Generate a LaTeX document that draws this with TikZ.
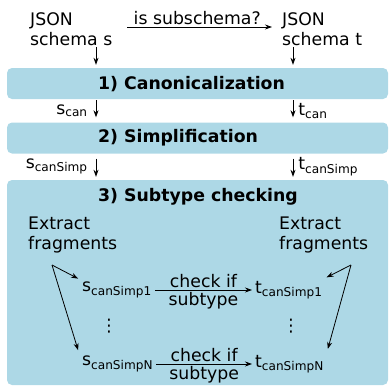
\documentclass[tikz,border=0pt]{standalone}
\usepackage{fontspec}
\setmainfont{DejaVu Sans}
\usetikzlibrary{arrows.meta,positioning,calc}
\definecolor{paleblue}{RGB}{173,216,230}
\newcommand\diagfont{\fontsize{17.3}{20.5}\selectfont}
\tikzset{
  >={Stealth[length=7pt,width=5pt]},
  stage/.style={fill=paleblue,rounded corners=5pt,minimum width=381pt,minimum height=#1,inner sep=0pt},
  stage/.default=31pt,
  stagetitle/.style={font=\diagfont\bfseries,anchor=west,inner sep=0pt},
  txt/.style={align=left,anchor=west,inner sep=0pt},
  sch/.style={anchor=west,inner sep=3pt},
  sublbl/.style={inner sep=2pt},
  flow/.style={->,line width=0.8pt},
}
\begin{document}
\begin{tikzpicture}[x=1pt,y=-1pt,font=\diagfont]
  \useasboundingbox (0,0) rectangle (389,388);
  \node[stage] (b1) at (197.5,83.5) {};
  \node[stage] (b2) at (197.5,138) {};
  \node[stage=205pt] (b3) at (197.5,282.5) {};
  \node[stagetitle] (h1) at (98,84) {1) Canonicalization};
  \node[stagetitle] (h2) at (98,138) {2) Simplification};
  \node[stagetitle] (h3) at (98,197) {3) Subtype checking};

  \node[txt] (sIn) at (30,29) {JSON\\schema s};
  \node[txt] (tIn) at (282,29) {JSON\\schema t};
  \coordinate (sx) at (96,0);
  \coordinate (tx) at (293,0);
  \draw[flow,shorten <=15pt,shorten >=10pt] ([yshift=2pt]sIn.east) -- node[above,sublbl]{is subschema?} ([yshift=2pt]sIn.east -| tIn.west);
  \draw[flow,shorten <=1pt,shorten >=3pt] (sIn.south -| sx) -- (b1.north -| sx);
  \draw[flow,shorten <=1pt,shorten >=3pt] (sIn.south -| tx) -- (b1.north -| tx);

  \draw[flow,shorten <=1pt,shorten >=5pt] (b1.south -| sx) -- node[left=6pt,sublbl]{s\textsubscript{can}} (b2.north -| sx);
  \draw[flow,shorten <=1pt,shorten >=5pt] (b1.south -| tx) -- node[right=3pt,sublbl]{t\textsubscript{can}} (b2.north -| tx);
  \draw[flow,shorten <=5pt,shorten >=3pt] (b2.south -| sx) -- node[left=6pt,sublbl]{s\textsubscript{canSimp}} (b3.north -| sx);
  \draw[flow,shorten <=5pt,shorten >=3pt] (b2.south -| tx) -- node[right=3pt,sublbl]{t\textsubscript{canSimp}} (b3.north -| tx);

  \node[txt] (exS) at (28,235) {Extract\\fragments};
  \node[txt] (exT) at (279,235) {Extract\\fragments};
  \coordinate (sSplit) at (52,265);
  \coordinate (tSplit) at (351,265);

  \node[sch] (s1) at (79,290) {s\textsubscript{canSimp1}};
  \node[sch] (t1) at (252,290) {t\textsubscript{canSimp1}};
  \node[sch] (sN) at (79,364) {s\textsubscript{canSimpN}};
  \node[sch] (tN) at (252,364) {t\textsubscript{canSimpN}};
  \node (dS) at (109,326) {⋮};
  \node (dT) at (291,326) {⋮};

  \foreach \a/\b in {s1/t1,sN/tN}
    \draw[flow] (\a) -- node[above,sublbl]{check if} node[below,sublbl]{subtype} (\b);
  \draw[flow,shorten >=1pt] (sSplit) -- (s1.north west);
  \draw[flow,shorten >=3pt] (sSplit) -- (sN.north west);
  \draw[flow,shorten >=1pt] (tSplit) -- (t1.north east);
  \draw[flow,shorten >=3pt] (tSplit) -- (tN.north east);
\end{tikzpicture}
\end{document}
